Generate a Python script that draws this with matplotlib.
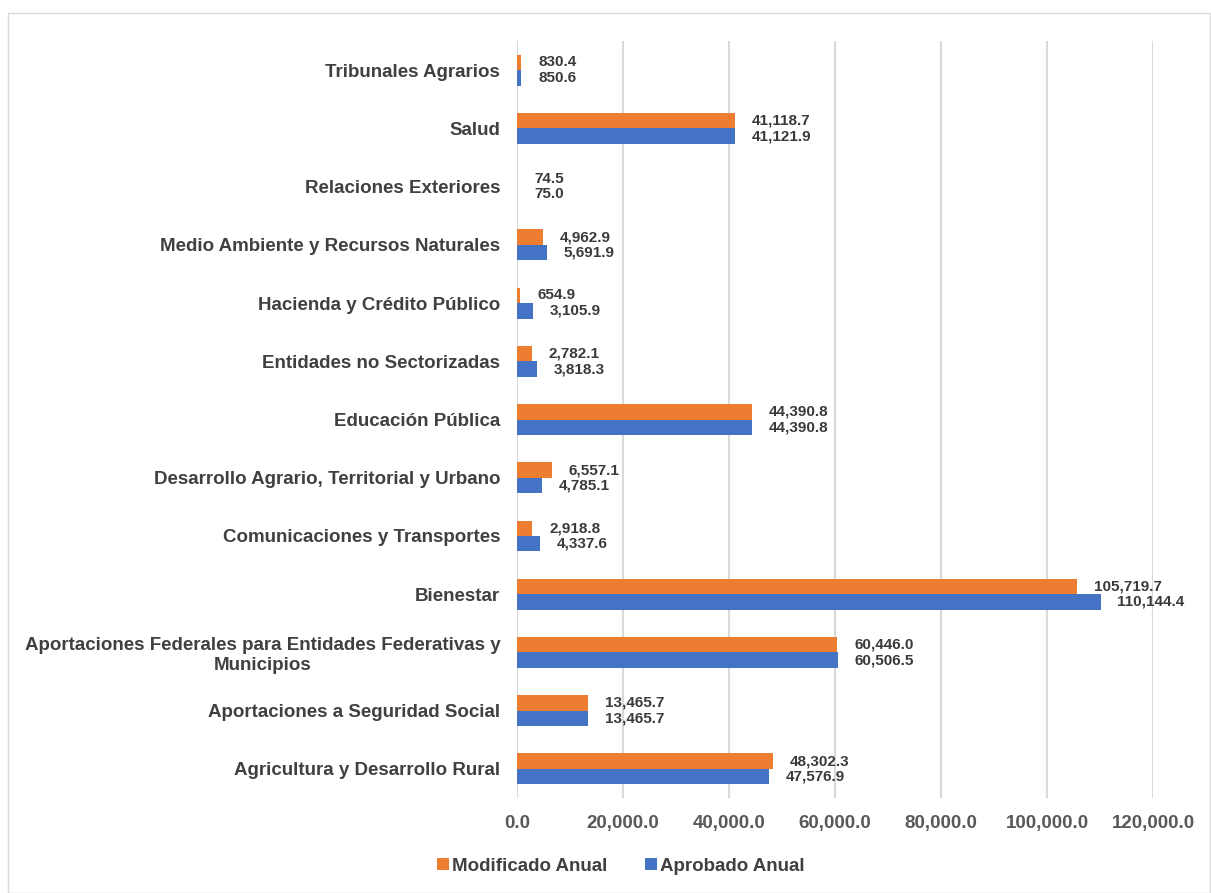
import matplotlib
matplotlib.use("Agg")
import matplotlib.pyplot as plt
import numpy as np
from matplotlib.patches import Rectangle

plt.rcParams['font.family'] = ['Liberation Sans', 'DejaVu Sans']
plt.rcParams['font.weight'] = 'bold'

# categorias de abajo hacia arriba
categorias = [
    "Agricultura y Desarrollo Rural",
    "Aportaciones a Seguridad Social",
    "Aportaciones Federales para Entidades Federativas y\nMunicipios",
    "Bienestar",
    "Comunicaciones y Transportes",
    "Desarrollo Agrario, Territorial y Urbano",
    "Educación Pública",
    "Entidades no Sectorizadas",
    "Hacienda y Crédito Público",
    "Medio Ambiente y Recursos Naturales",
    "Relaciones Exteriores",
    "Salud",
    "Tribunales Agrarios",
]
modificado = [48302.3, 13465.7, 60446.0, 105719.7, 2918.8, 6557.1, 44390.8,
              2782.1, 654.9, 4962.9, 74.5, 41118.7, 830.4]
aprobado = [47576.9, 13465.7, 60506.5, 110144.4, 4337.6, 4785.1, 44390.8,
            3818.3, 3105.9, 5691.9, 75.0, 41121.9, 850.6]
xticks = [0, 20000, 40000, 60000, 80000, 100000, 120000]

naranja = '#ED7D31'
azul = '#4472C4'
texto = '#404040'

fig = plt.figure(figsize=(12.11, 8.93), dpi=100)
ax = fig.add_axes([0.4269, 0.1064, 0.5252, 0.8476])

y = np.arange(len(categorias))
h = 0.265
b1 = ax.barh(y + h / 2, modificado, height=h, color=naranja, label='Modificado Anual')
b2 = ax.barh(y - h / 2, aprobado, height=h, color=azul, label='Aprobado Anual')

for barras, vals in ((b1, modificado), (b2, aprobado)):
    for bar, v in zip(barras, vals):
        ax.annotate(f"{v:,.1f}", (bar.get_width(), bar.get_y() + bar.get_height() / 2),
                    xytext=(12, 0), textcoords='offset points', ha='left', va='center',
                    fontsize=11, fontweight='bold', color='#3a3a3a')

ax.set_xlim(0, 120000)
ax.set_ylim(-0.5, len(categorias) - 0.5)
ax.set_yticks(y)
ax.set_yticklabels(categorias, fontsize=13.5, fontweight='bold', color=texto)
for t in ax.get_yticklabels():
    t.set_multialignment('center')
ax.set_xticks(xticks)
ax.set_xticklabels([f"{v:,.1f}" for v in xticks], fontsize=13.5, fontweight='bold', color='#595959')
ax.tick_params(axis='both', length=0)
ax.tick_params(axis='y', pad=12)
ax.tick_params(axis='x', pad=12)
ax.grid(axis='x', color='#d9d9d9', linewidth=1.5)
ax.set_axisbelow(True)
for s in ax.spines.values():
    s.set_visible(False)

fig.legend(handles=[b1, b2], loc='center', bbox_to_anchor=(0.513, 0.030), ncol=2,
           frameon=False, fontsize=13.5, handlelength=0.6, handleheight=0.6,
           handletextpad=0.2, columnspacing=2.0, labelcolor=texto)

fig.patches.append(Rectangle((8 / 1211, 0.0), 1202 / 1211, 880 / 893, transform=fig.transFigure,
                             fill=False, edgecolor='#d9d9d9', linewidth=1))

plt.savefig('out.png', dpi=100)
